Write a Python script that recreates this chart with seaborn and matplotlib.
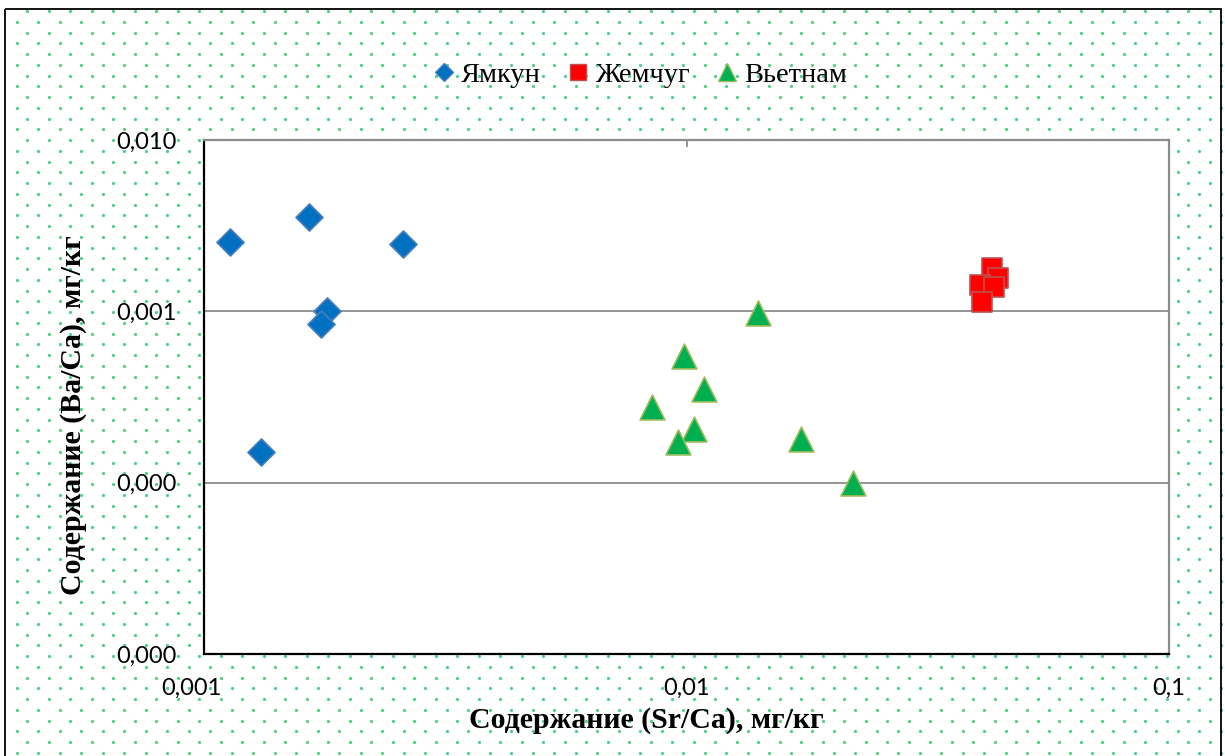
import numpy as np
import pandas as pd
import seaborn as sns
import matplotlib
matplotlib.use("Agg")
import matplotlib.pyplot as plt
from matplotlib.lines import Line2D
from matplotlib.patches import Rectangle
from matplotlib.ticker import FixedLocator, FixedFormatter, NullLocator
from matplotlib.transforms import ScaledTranslation

# --- data -------------------------------------------------------------
groups = ["Ямкун", "Жемчуг", "Вьетнам"]

yamkun_sr = [0.00113, 0.00165, 0.00258, 0.00180, 0.00175, 0.00131]
yamkun_ba = [0.00255, 0.00356, 0.00248, 0.00100, 0.000845, 0.000150]

zhemchug_sr = [0.0430, 0.0442, 0.0406, 0.0433, 0.0409]
zhemchug_ba = [0.00178, 0.00157, 0.00143, 0.00138, 0.00114]

vietnam_sr = [0.0141, 0.00987, 0.01086, 0.00849, 0.01036, 0.00961, 0.01723, 0.02213]
vietnam_ba = [0.000984, 0.000552, 0.000353, 0.000276, 0.000205, 0.000173, 0.000181, 0.0000989]

x_ticks = [0.001, 0.01, 0.1]
x_tick_labels = ["0,001", "0,01", "0,1"]
y_ticks = [0.00001, 0.0001, 0.001, 0.01]
y_tick_labels = ["0,000", "0,000", "0,001", "0,010"]

x_title = "Содержание (Sr/Ca), мг/кг"
y_title = "Содержание (Ba/Ca), мг/кг"

df = pd.DataFrame({
    "Sr/Ca": yamkun_sr + zhemchug_sr + vietnam_sr,
    "Ba/Ca": yamkun_ba + zhemchug_ba + vietnam_ba,
    "group": ["Ямкун"] * len(yamkun_sr) + ["Жемчуг"] * len(zhemchug_sr)
             + ["Вьетнам"] * len(vietnam_sr),
})

# --- styles -----------------------------------------------------------
styles = {
    "Ямкун":   dict(marker="D", face="#0070C0", edge="#4A7EBB", s=190, leg_ms=8.7),
    "Жемчуг":  dict(marker="s", face="#FF0000", edge="#C0504D", s=200, leg_ms=12.0),
    "Вьетнам": dict(marker="^", face="#00B050", edge="#9BBB59", s=320, leg_ms=12.5),
}

W, H, DPI = 1225, 756, 100
fig = plt.figure(figsize=(W / DPI, H / DPI), dpi=DPI)
fig.patch.set_facecolor("white")

# chart-area background: dotted fill inside a thin black frame
bg = fig.add_axes([0, 0, 1, 1], zorder=0)
bg.set_xlim(0, W)
bg.set_ylim(H, 0)
bg.axis("off")
frame_l, frame_t, frame_r, frame_b = 5, 9, 1221, 762
step = 21.5
row = step / 2
rows = np.arange(11, frame_b, row)
px, py = [], []
for k, yy in enumerate(rows):
    start = 27.3 - (row if k % 2 else 0)
    xs = np.arange(start, frame_r, step)
    xs = xs[xs > frame_l + 2]
    px.extend(xs)
    py.extend([yy] * len(xs))
bg.scatter(px, py, s=5.5, color="#3fcb7e", linewidths=0, alpha=0.9)
bg.add_patch(Rectangle((frame_l, frame_t), frame_r - frame_l, frame_b - frame_t,
                       fill=False, edgecolor="black", linewidth=1.3))

# plot area
L, R, T, B = 204, 1169, 140, 654
ax = fig.add_axes([L / W, (H - B) / H, (R - L) / W, (B - T) / H], zorder=2)
ax.set_facecolor("white")

for g in groups:
    st = styles[g]
    sub = df[df["group"] == g]
    sns.scatterplot(data=sub, x="Sr/Ca", y="Ba/Ca", ax=ax, marker=st["marker"],
                    color=st["face"], edgecolor=st["edge"], linewidth=1.2,
                    s=st["s"], legend=False, zorder=3)

ax.set_xscale("log")
ax.set_yscale("log")
ax.set_xlim(x_ticks[0], x_ticks[-1])
ax.set_ylim(y_ticks[0], y_ticks[-1])

ax.xaxis.set_major_locator(FixedLocator(x_ticks))
ax.xaxis.set_major_formatter(FixedFormatter(x_tick_labels))
ax.yaxis.set_major_locator(FixedLocator(y_ticks))
ax.yaxis.set_major_formatter(FixedFormatter(y_tick_labels))
ax.xaxis.set_minor_locator(NullLocator())
ax.yaxis.set_minor_locator(NullLocator())

tick_font = "Lato"
ax.tick_params(axis="x", bottom=False, top=True, direction="in", length=5,
               width=1.3, color="#8c8c8c", labelsize=17, pad=17,
               labelcolor="black")
ax.tick_params(axis="y", left=False, right=False, labelsize=17, pad=16)
for lab in ax.get_xticklabels() + ax.get_yticklabels():
    lab.set_fontfamily(tick_font)

# first x label sits a little left of its tick
first = ax.get_xticklabels()[0]
first.set_transform(first.get_transform() + ScaledTranslation(-0.13, 0, fig.dpi_scale_trans))

# horizontal gridlines only
ax.grid(axis="y", color="#8c8c8c", linewidth=1.3)
ax.grid(axis="x", visible=False)
ax.set_axisbelow(True)

for side in ("left", "bottom"):
    ax.spines[side].set_color("black")
    ax.spines[side].set_linewidth(1.6)
for side in ("top", "right"):
    ax.spines[side].set_color("#8c8c8c")
    ax.spines[side].set_linewidth(1.6)

title_font = dict(family="Liberation Serif", weight="bold", size=21.5)
ax.set_xlabel(x_title, **title_font)
ax.set_ylabel(y_title, **title_font)
ax.xaxis.set_label_coords((646 - L) / (R - L), (B - 721) / (B - T))
ax.xaxis.label.set_va("center")
ax.yaxis.set_label_coords((74 - L) / (R - L), (B - 415) / (B - T))
ax.yaxis.label.set_va("center")

handles = [Line2D([], [], linestyle="none", marker=styles[g]["marker"],
                  markerfacecolor=styles[g]["face"], markeredgecolor=styles[g]["edge"],
                  markeredgewidth=1.0, markersize=styles[g]["leg_ms"], label=g)
           for g in groups]
fig.legend(handles=handles, loc="center", bbox_to_anchor=(641 / W, (H - 75) / H),
           ncol=3, frameon=False, handlelength=0.6, handletextpad=0.3,
           columnspacing=1.0, prop=dict(family="Liberation Serif", size=20.5))

fig.savefig("out.png", dpi=DPI)
